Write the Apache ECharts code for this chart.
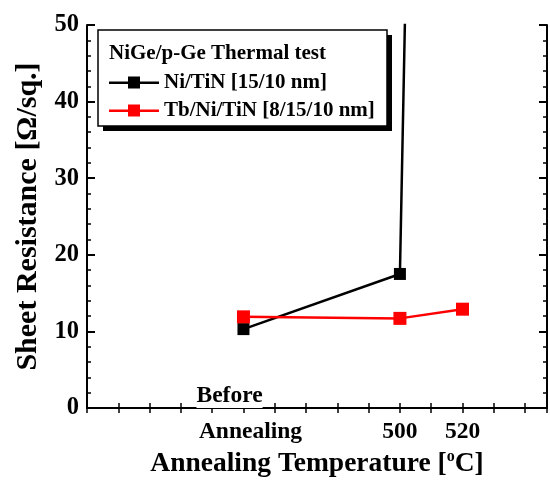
<!DOCTYPE html>
<html>
<head>
<meta charset="utf-8">
<script src="https://cdn.jsdelivr.net/npm/echarts@6/dist/echarts.min.js"></script>
<style>
    * { margin: 0; padding: 0; }
    html, body { background: #fff; }
    #chart { width: 550px; height: 483px; }
</style>
</head>
<body>
<div id="chart"></div>
<script>
    // data
    const niTinX = [450, 500, 520];
    const niTinY = [10.3, 17.5, 430];   // last point shoots far off the top
    const tbNiTinX = [450, 500, 520];
    const tbNiTinY = [11.9, 11.7, 12.9];
    const seriesNames = ['Ni/TiN [15/10 nm]', 'Tb/Ni/TiN [8/15/10 nm]'];
    const xLabelValues = [450, 500, 520];
    const xLabelTexts = ['Annealing', '500', '520'];

    const font = 'Liberation Serif';
    // line - square - line, like the legend in the figure
    const legendIcon = 'path://M0,5h19v2.5h-19z M19,0h12v12h-12z M31,5h19v2.5h-19z';

    function pairs(xs, ys) {
        return xs.map((x, i) => [x, ys[i]]);
    }

    const commonY = {
        type: 'value',
        min: 0,
        max: 50,
        interval: 10,
        axisLine: { show: true, lineStyle: { color: '#000', width: 2 } },
        axisTick: { show: true, inside: true, length: 8, lineStyle: { color: '#000', width: 2 } },
        minorTick: { show: true, splitNumber: 5, length: 4, lineStyle: { color: '#000', width: 1.5 } },
        splitLine: { show: false }
    };

    const commonX = {
        type: 'value',
        min: 400,
        max: 547,
        interval: 10,
        axisLine: { show: true, lineStyle: { color: '#000', width: 2 } },
        axisTick: { show: true, inside: true, length: 5, lineStyle: { color: '#000', width: 1.5 } },
        splitLine: { show: false }
    };

    const option = {
        backgroundColor: '#fff',
        animation: false,
        grid: { left: 87, right: 2, top: 25, bottom: 75 },
        title: {
            text: 'NiGe/p-Ge Thermal test',
            left: 104,
            top: 38,
            z: 10,
            textStyle: { fontFamily: font, fontWeight: 'bold', fontSize: 21, color: '#000' }
        },
        legend: {
            orient: 'vertical',
            left: 104,
            top: 67,
            z: 10,
            itemWidth: 50,
            itemHeight: 12,
            itemGap: 7,
            data: [
                { name: seriesNames[0], icon: legendIcon },
                { name: seriesNames[1], icon: legendIcon }
            ],
            textStyle: { fontFamily: font, fontWeight: 'bold', fontSize: 21, color: '#000' }
        },
        xAxis: [
            Object.assign({}, commonX, {
                position: 'bottom',
                name: 'Annealing Temperature [{sup|o}C]',
                nameLocation: 'middle',
                nameGap: 41,
                nameTextStyle: {
                    fontFamily: font, fontWeight: 'bold', fontSize: 27.5, color: '#000',
                    rich: {
                        sup: { fontFamily: font, fontSize: 16, verticalAlign: 'top', color: '#000', padding: [0, 0, 14, 0] }
                    }
                },
                axisLabel: {
                    margin: 12,
                    fontFamily: font, fontWeight: 'bold', fontSize: 23.5, color: '#000',
                    formatter: function (v) {
                        const i = xLabelValues.indexOf(v);
                        if (i < 0) return '';
                        return i === 0 ? '{a|' + xLabelTexts[i] + '}' : xLabelTexts[i];
                    },
                    rich: {
                        a: { fontFamily: font, fontWeight: 'bold', fontSize: 23.5, color: '#000', padding: [0, 0, 0, 14] }
                    }
                }
            }),
            Object.assign({}, commonX, {
                position: 'top',
                axisLabel: { show: false }
            })
        ],
        yAxis: [
            Object.assign({}, commonY, {
                position: 'left',
                name: 'Sheet Resistance [Ω/sq.]',
                nameLocation: 'middle',
                nameGap: 44,
                nameTextStyle: { fontFamily: font, fontWeight: 'bold', fontSize: 30, color: '#000' },
                axisLabel: { margin: 8, fontFamily: font, fontWeight: 'bold', fontSize: 24.5, color: '#000' }
            }),
            Object.assign({}, commonY, {
                position: 'right',
                axisLabel: { show: false }
            })
        ],
        series: [
            {
                name: seriesNames[0],
                type: 'line',
                data: pairs(niTinX, niTinY),
                symbol: 'rect',
                symbolSize: 12,
                clip: true,
                color: '#000',
                lineStyle: { color: '#000', width: 2.5 },
                itemStyle: { color: '#000' },
                z: 3
            },
            {
                name: seriesNames[1],
                type: 'line',
                data: pairs(tbNiTinX, tbNiTinY),
                symbol: 'rect',
                symbolSize: 13,
                clip: true,
                color: '#ff0000',
                lineStyle: { color: '#ff0000', width: 2.5 },
                itemStyle: { color: '#ff0000' },
                z: 4
            }
        ]
    };

    const chart = echarts.init(document.getElementById('chart'));
    chart.setOption(option);

    // legend box with drop shadow, and the "Before" word sitting above the axis
    const beforeX = chart.convertToPixel({ xAxisIndex: 0 }, xLabelValues[0]);
    const axisY = chart.convertToPixel({ yAxisIndex: 0 }, 0);
    chart.setOption({
        graphic: [
            { type: 'rect', z: 5, shape: { x: 103, y: 35, width: 289, height: 96 }, style: { fill: '#000' } },
            { type: 'rect', z: 6, shape: { x: 98, y: 30, width: 289, height: 96 }, style: { fill: '#fff', stroke: '#000', lineWidth: 1.5 } },
            {
                type: 'text', z: 7,
                x: beforeX - 47, y: axisY - 24,
                style: { text: 'Before', fontFamily: font, fontWeight: 'bold', fontSize: 23.5, fill: '#000', backgroundColor: '#fff' }
            }
        ]
    });
</script>
</body>
</html>
